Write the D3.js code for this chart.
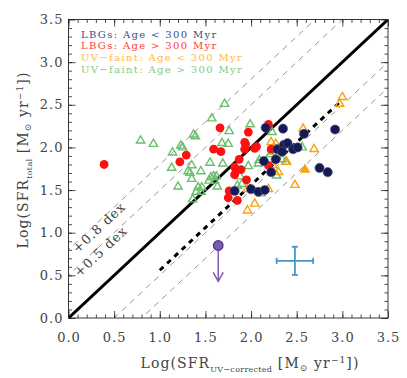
<!DOCTYPE html>
<html>
<head>
<meta charset="utf-8">
<script src="https://cdn.jsdelivr.net/npm/d3@7"></script>
<style>
  body { margin: 0; background: #fff; }
  text { font-family: "DejaVu Serif", serif; }
</style>
</head>
<body>
<div id="chart"></div>
<script>
// UV-faint, age > 300 Myr (open green triangles)
var faintOld = [
  [0.79,2.08],[0.93,2.04],[1.14,1.94],[1.25,2.00],[1.23,2.02],[1.37,2.15],[1.39,2.13],
  [1.13,1.76],[1.20,1.54],[1.31,1.72],[1.33,1.70],[1.35,1.79],[1.45,1.72],[1.35,1.63],
  [1.42,1.53],[1.46,1.53],[1.45,1.48],[1.40,1.48],[1.36,1.39],[1.57,2.34],[1.71,2.51],
  [1.55,1.82],[1.69,1.81],[1.56,1.65],[1.59,1.66],[1.62,1.66],[1.60,1.61],[1.54,1.61],
  [1.63,1.54],[1.68,2.05],[1.75,2.04],[1.76,2.19],[1.99,2.27],[1.90,1.57],[1.85,1.55],
  [1.97,1.78],[2.09,1.85],[2.08,1.81],[2.21,1.92],[2.23,1.95],[2.34,1.86],[2.38,1.83],
  [2.28,1.67],[2.11,1.46],[2.23,2.18],[2.56,2.00],[1.88,1.66]
];
// UV-faint, age < 300 Myr (open orange triangles)
var faintYoung = [
  [3.00,2.59],[2.97,2.51],[2.57,2.22],[2.22,2.06],[2.27,2.04],[2.69,1.98],[2.39,1.83],
  [2.24,1.79],[2.30,1.71],[2.48,1.56],[2.19,1.51],[1.96,1.26],[2.04,1.34],[1.96,1.51]
];
var faintYoungFilled = [[2.59,1.74]];
// LBGs, age > 300 Myr (red)
var lbgOld = [
  [0.39,1.80],[1.29,1.91],[1.22,1.83],[1.66,2.23],[2.19,2.27],[1.97,2.18],[1.59,1.98],
  [1.67,1.95],[1.93,2.06],[1.94,2.04],[2.06,2.01],[2.04,1.99],[1.93,1.98],[1.87,1.86],
  [2.22,1.98],[1.82,1.77],[1.89,1.74],[2.19,1.79],[1.82,1.68],[1.95,1.62],[1.76,1.49],
  [1.75,1.41],[1.85,1.38]
];
// LBGs, age < 300 Myr (navy)
var lbgYoung = [
  [2.16,2.23],[2.35,2.22],[2.58,2.16],[2.92,2.21],[2.29,1.98],[2.36,2.03],[2.40,2.05],
  [2.34,1.95],[2.46,1.98],[2.51,2.00],[2.14,1.84],[2.27,1.86],[2.22,1.71],[2.75,1.76],
  [2.84,1.71],[1.82,1.49],[2.00,1.51],[2.08,1.48],[2.15,1.50]
];
// upper limit point and typical error
var limitPoint = { x: 1.64, y: 0.85, yTo: 0.43 };
var errBar = { x: 2.48, y: 0.67, dx: 0.2, dy: 0.165 };
// fit line (thick dashed)
var fitLine = [[1.0, 0.56], [2.97, 2.53]];
var offsets = [0.8, 0.5, -0.5, -0.8];
var dexLabels = [[0.8, "+0.8 dex", 0.30], [0.5, "+0.5 dex", 0.32]];
var legendLabels = ["LBGs: Age < 300 Myr", "LBGs: Age > 300 Myr",
  "UV\u2212faint: Age < 300 Myr", "UV\u2212faint: Age > 300 Myr"];
var legendColors = ["#3d4b86", "#ff3a3a", "#ffb846", "#82ca82"];
var majorTicks = [0, 0.5, 1.0, 1.5, 2.0, 2.5, 3.0, 3.5];
var minorTicks = d3.range(0, 35).map(function (i) { return i / 10; });

var W = 407, H = 378;
var margin = { top: 19.5, left: 68.5, right: 19, bottom: 60 };
var width = W - margin.left - margin.right,
  height = H - margin.top - margin.bottom;

var svg = d3.select("#chart").append("svg")
  .attr("width", W).attr("height", H);
var g = svg.append("g")
  .attr("transform", "translate(" + margin.left + "," + margin.top + ")");

var x = d3.scaleLinear().domain([0, 3.5]).range([0, width]);
var y = d3.scaleLinear().domain([0, 3.5]).range([height, 0]);

g.append("clipPath").attr("id", "clip").append("rect")
  .attr("width", width).attr("height", height);
var plot = g.append("g").attr("clip-path", "url(#clip)");

// thin dashed offset lines
var line = d3.line().x(function (d) { return x(d[0]); }).y(function (d) { return y(d[1]); });
offsets.forEach(function (o) {
  plot.append("path")
    .datum([[-1, -1 + o], [5, 5 + o]])
    .attr("d", line)
    .attr("fill", "none")
    .attr("stroke", "#8a8a8a")
    .attr("stroke-width", 0.9)
    .attr("stroke-dasharray", "6,5");
});

// 1:1 line
plot.append("path").datum([[0, 0], [3.5, 3.5]])
  .attr("d", line).attr("stroke", "#000").attr("stroke-width", 3).attr("fill", "none");

// fit line
plot.append("path").datum(fitLine)
  .attr("d", line).attr("stroke", "#000").attr("stroke-width", 3)
  .attr("stroke-dasharray", "5,5").attr("fill", "none");

// dex labels, just below their lines
var ang = -Math.atan((y(0) - y(1)) / (x(1) - x(0))) * 180 / Math.PI;
dexLabels.forEach(function (d) {
  var xx = d[2], yy = d[2] + d[0];
  g.append("text")
    .attr("transform", "translate(" + x(xx) + "," + y(yy) + ") rotate(" + ang + ")")
    .attr("text-anchor", "middle")
    .attr("dy", 9)
    .attr("font-size", 13)
    .attr("letter-spacing", 1)
    .attr("fill", "#444")
    .text(d[1]);
});

var tri = d3.symbol().type(d3.symbolTriangle).size(30);

plot.selectAll(".green").data(faintOld).enter().append("path")
  .attr("d", tri)
  .attr("transform", function (d) { return "translate(" + x(d[0]) + "," + y(d[1]) + ")"; })
  .attr("fill", "none").attr("stroke", "#6cbf6c").attr("stroke-width", 1.4);

plot.selectAll(".orange").data(faintYoung).enter().append("path")
  .attr("d", tri)
  .attr("transform", function (d) { return "translate(" + x(d[0]) + "," + y(d[1]) + ")"; })
  .attr("fill", "none").attr("stroke", "#f5a511").attr("stroke-width", 1.4);

plot.selectAll(".orangef").data(faintYoungFilled).enter().append("path")
  .attr("d", d3.symbol().type(d3.symbolTriangle).size(50))
  .attr("transform", function (d) { return "translate(" + x(d[0]) + "," + y(d[1]) + ")"; })
  .attr("fill", "#f5a511");

plot.selectAll(".red").data(lbgOld).enter().append("circle")
  .attr("cx", function (d) { return x(d[0]); })
  .attr("cy", function (d) { return y(d[1]); })
  .attr("r", 4.4).attr("fill", "#ff1010");

plot.selectAll(".navy").data(lbgYoung).enter().append("circle")
  .attr("cx", function (d) { return x(d[0]); })
  .attr("cy", function (d) { return y(d[1]); })
  .attr("r", 4.6).attr("fill", "#141b52").attr("stroke", "#5b4f8a").attr("stroke-width", 0.6);

// upper limit
g.append("line")
  .attr("x1", x(limitPoint.x)).attr("x2", x(limitPoint.x))
  .attr("y1", y(limitPoint.y)).attr("y2", y(limitPoint.yTo))
  .attr("stroke", "#7a52b0").attr("stroke-width", 1.4);
g.append("path")
  .attr("d", "M" + (x(limitPoint.x) - 5) + "," + (y(limitPoint.yTo) - 9) +
    "L" + x(limitPoint.x) + "," + y(limitPoint.yTo) +
    "L" + (x(limitPoint.x) + 5) + "," + (y(limitPoint.yTo) - 9))
  .attr("fill", "none").attr("stroke", "#7a52b0").attr("stroke-width", 1.4);
g.append("circle")
  .attr("cx", x(limitPoint.x)).attr("cy", y(limitPoint.y)).attr("r", 4.8)
  .attr("fill", "#7a5cae").attr("stroke", "#4b2d86").attr("stroke-width", 1.2);

// typical error cross
var ec = "#4a93c6";
g.append("line").attr("x1", x(errBar.x - errBar.dx)).attr("x2", x(errBar.x + errBar.dx))
  .attr("y1", y(errBar.y)).attr("y2", y(errBar.y)).attr("stroke", ec).attr("stroke-width", 1.8);
g.append("line").attr("x1", x(errBar.x)).attr("x2", x(errBar.x))
  .attr("y1", y(errBar.y - errBar.dy)).attr("y2", y(errBar.y + errBar.dy))
  .attr("stroke", ec).attr("stroke-width", 1.8);
[-1, 1].forEach(function (s) {
  g.append("line").attr("x1", x(errBar.x + s * errBar.dx)).attr("x2", x(errBar.x + s * errBar.dx))
    .attr("y1", y(errBar.y) - 3).attr("y2", y(errBar.y) + 3).attr("stroke", ec).attr("stroke-width", 1.8);
  g.append("line").attr("x1", x(errBar.x) - 3).attr("x2", x(errBar.x) + 3)
    .attr("y1", y(errBar.y + s * errBar.dy)).attr("y2", y(errBar.y + s * errBar.dy))
    .attr("stroke", ec).attr("stroke-width", 1.8);
});

// axes: inward ticks on all four sides
var fmt = d3.format(".1f");
function styleAxis(sel) {
  sel.select(".domain").remove();
  sel.selectAll("line").attr("stroke", "#222").attr("stroke-width", 0.8);
  sel.selectAll("text").attr("font-family", "DejaVu Serif").attr("font-size", 13)
    .attr("letter-spacing", 1).attr("fill", "#444");
}
g.append("g").attr("transform", "translate(0," + height + ")")
  .call(d3.axisBottom(x).tickValues(majorTicks).tickFormat(fmt).tickSize(-7).tickPadding(14.5))
  .call(styleAxis);
g.append("g").attr("transform", "translate(0," + height + ")")
  .call(d3.axisBottom(x).tickValues(minorTicks).tickFormat("").tickSize(-3.5))
  .call(styleAxis);
g.append("g")
  .call(d3.axisTop(x).tickValues(majorTicks).tickFormat("").tickSize(-7)).call(styleAxis);
g.append("g")
  .call(d3.axisTop(x).tickValues(minorTicks).tickFormat("").tickSize(-3.5)).call(styleAxis);
g.append("g")
  .call(d3.axisLeft(y).tickValues(majorTicks).tickFormat(fmt).tickSize(-7).tickPadding(5))
  .call(styleAxis);
g.append("g")
  .call(d3.axisLeft(y).tickValues(minorTicks).tickFormat("").tickSize(-3.5)).call(styleAxis);
g.append("g").attr("transform", "translate(" + width + ",0)")
  .call(d3.axisRight(y).tickValues(majorTicks).tickFormat("").tickSize(-7)).call(styleAxis);
g.append("g").attr("transform", "translate(" + width + ",0)")
  .call(d3.axisRight(y).tickValues(minorTicks).tickFormat("").tickSize(-3.5)).call(styleAxis);

g.append("rect").attr("width", width).attr("height", height)
  .attr("fill", "none").attr("stroke", "#222").attr("stroke-width", 0.9);

// legend
legendLabels.forEach(function (t, i) {
  g.append("text")
    .attr("x", 12.5).attr("y", 18 + i * 11.8)
    .attr("font-size", 10).attr("letter-spacing", 1.35)
    .attr("fill", legendColors[i])
    .text(t);
});

// axis titles
function title(sel, sub) {
  sel.attr("font-size", 14).attr("letter-spacing", 1.1).attr("fill", "#444");
  sel.append("tspan").text("Log(SFR");
  sel.append("tspan").attr("font-size", 8).attr("letter-spacing", 0.3).attr("dy", 4).text(sub);
  sel.append("tspan").attr("dy", -4).text(" [M");
  sel.append("tspan").attr("font-size", 9).attr("dy", 3).text("\u2299");
  sel.append("tspan").attr("dy", -3).text(" yr");
  sel.append("tspan").attr("font-size", 9).attr("dy", -5).text("\u22121");
  sel.append("tspan").attr("dy", 5).text("])");
}
svg.append("text").attr("x", 250).attr("y", 368).attr("text-anchor", "middle")
  .call(title, "UV\u2212corrected");
svg.append("text").attr("transform", "translate(28,160) rotate(-90)")
  .attr("text-anchor", "middle")
  .call(title, "total");
</script>
</body>
</html>
